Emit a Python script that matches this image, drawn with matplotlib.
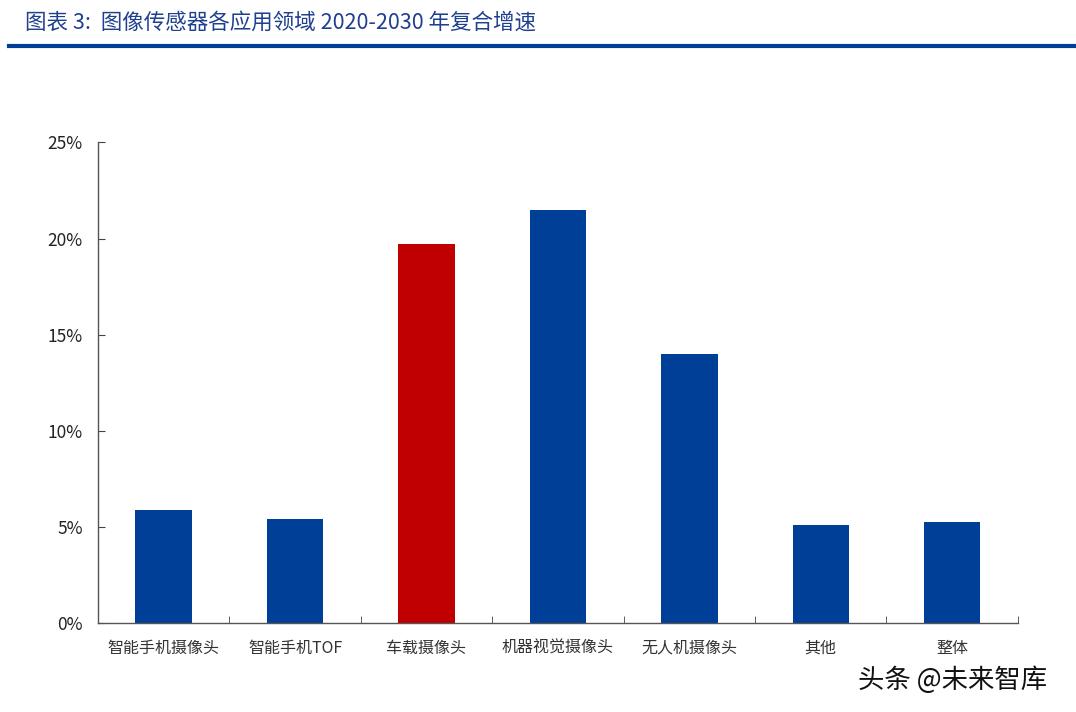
import matplotlib
matplotlib.use("Agg")
import matplotlib.pyplot as plt
from matplotlib.ticker import FuncFormatter, MultipleLocator

plt.rcParams['font.family'] = ['Noto Sans CJK SC', 'DejaVu Sans']

categories = ["智能手机摄像头", "智能手机TOF", "车载摄像头", "机器视觉摄像头", "无人机摄像头", "其他", "整体"]
values = [5.9, 5.4, 19.7, 21.5, 14.0, 5.1, 5.25]
highlight = "车载摄像头"

blue = "#003F97"
red = "#C00000"
colors = [red if c == highlight else blue for c in categories]

fig = plt.figure(figsize=(10.76, 7.12), dpi=100)
ax = fig.add_axes([0.091, 0.125, 0.855, 0.675])

x = list(range(len(categories)))
ax.bar(x, values, width=0.43, color=colors, zorder=2)
ax.set_xlim(-0.5, len(categories) - 0.5)
ax.set_ylim(0, 25)
ax.yaxis.set_major_locator(MultipleLocator(5))
ax.yaxis.set_major_formatter(FuncFormatter(lambda v, p: f"{v:.0f}%"))

ax.set_xticks(x)
ax.set_xticklabels(categories, fontsize=11.5, color="#333333")
ax.set_xticks([i - 0.5 for i in range(len(categories) + 1)], minor=True)
ax.tick_params(axis='x', which='major', length=0, pad=12)
ax.tick_params(axis='x', which='minor', direction='in', length=5, color="#444444")
ax.tick_params(axis='y', direction='in', length=5, color="#444444", labelsize=12.5, labelcolor="#222222", pad=11)

for s in ['top', 'right']:
    ax.spines[s].set_visible(False)
for s in ['left', 'bottom']:
    ax.spines[s].set_color("#555555")
    ax.spines[s].set_linewidth(1.0)

fig.text(0.023, 0.968, "图表 3:  图像传感器各应用领域 2020-2030 年复合增速",
         fontsize=15.5, style='italic', color="#1F3F8F", va='center', ha='left')
fig.add_artist(plt.Line2D([0.008, 0.998], [0.935, 0.935], color="#003F97", linewidth=3, transform=fig.transFigure))

fig.text(0.797, 0.045, "头条 @未来智库", fontsize=19, color="#111111", va='center', ha='left')

fig.savefig("out.png", dpi=100)
